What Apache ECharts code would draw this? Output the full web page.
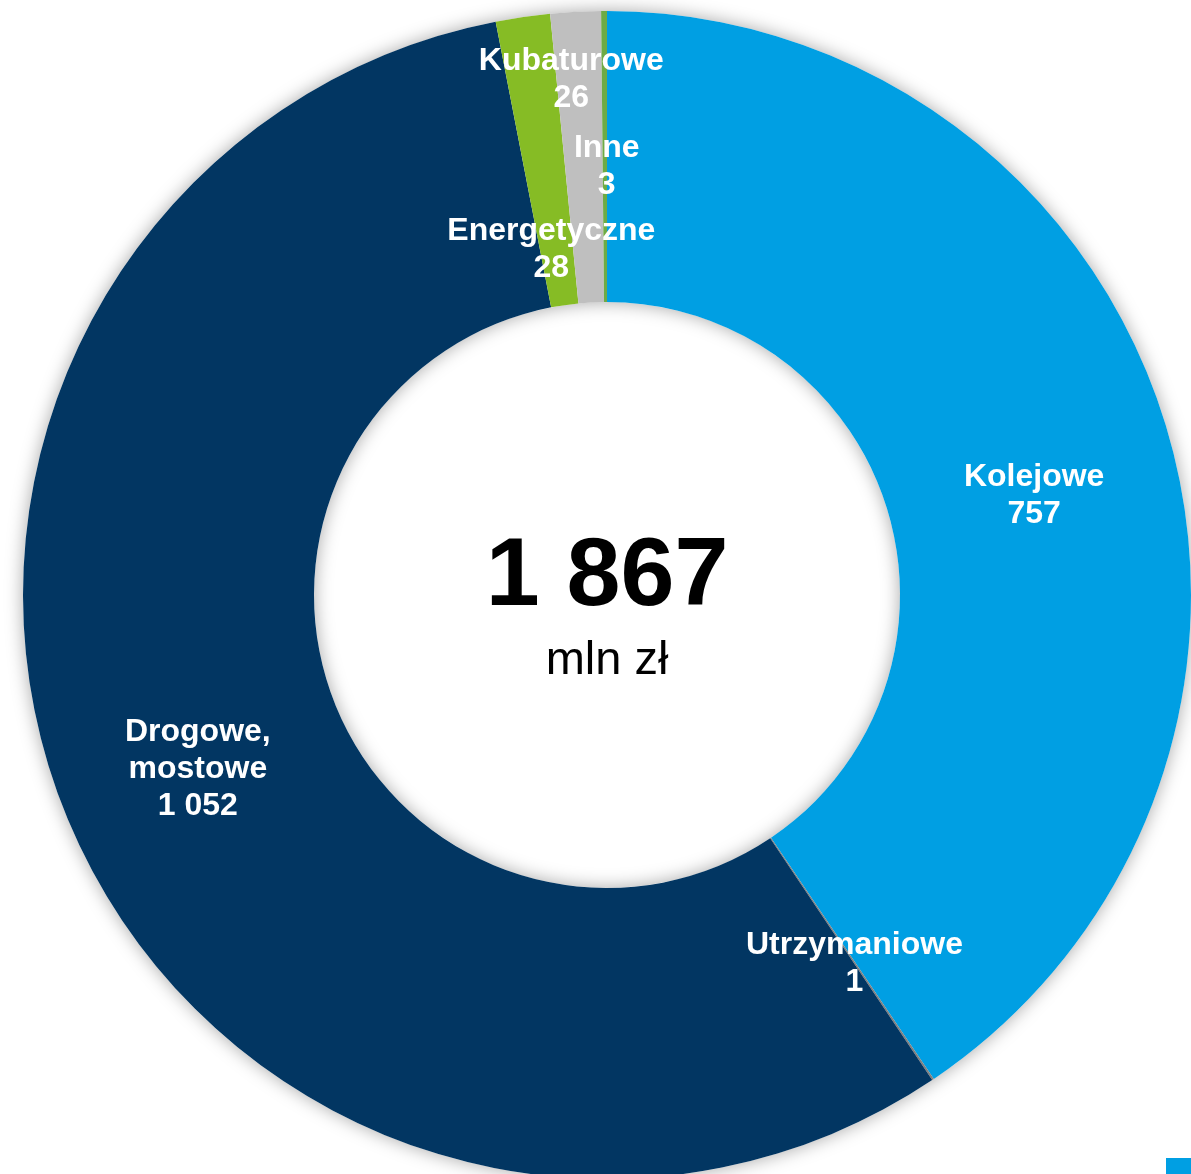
<!DOCTYPE html>
<html>
<head>
<meta charset="utf-8">
<script src="https://cdn.jsdelivr.net/npm/echarts@6/dist/echarts.min.js"></script>
<style>
  html, body { margin: 0; padding: 0; background: #ffffff; }
  #chart { width: 1191px; height: 1174px; }
</style>
</head>
<body>
<div id="chart"></div>
<script>
const categories = ['Kolejowe', 'Utrzymaniowe', 'Drogowe, mostowe', 'Energetyczne', 'Kubaturowe', 'Inne'];
const values = [757, 1, 1052, 28, 26, 3];
const unitLabel = 'mln zł';

const colors = ['#009FE3', '#808080', '#023662', '#86BC25', '#BFBFBF', '#6EAB45'];
const labelOffsets = [[5, 30], [1, 2], [-1, 6], [8, 92], [-12, -74], [2, 13]];

function fmt(v) {
  return String(v).replace(/\B(?=(\d{3})+(?!\d))/g, ' ');
}
const total = values.reduce((a, b) => a + b, 0);

const CENTER = [607, 595];
const RADIUS = [293, 584];

const chart = echarts.init(document.getElementById('chart'), null, { renderer: 'canvas' });

chart.setOption({
  animation: false,
  backgroundColor: '#ffffff',
  legend: {
    data: [categories[0]],
    left: 1166,
    top: 1158,
    icon: 'rect',
    itemWidth: 26,
    itemHeight: 20,
    padding: 0,
    textStyle: { color: '#ffffff', fontSize: 12 },
    selectedMode: false
  },
  graphic: [
    {
      type: 'text',
      x: CENTER[0], y: 578, z: 100,
      style: {
        text: fmt(total),
        font: 'bold 97px "Liberation Sans", Arial, sans-serif',
        fill: '#000000',
        align: 'center',
        verticalAlign: 'middle'
      }
    },
    {
      type: 'text',
      x: CENTER[0], y: 661, z: 100,
      style: {
        text: unitLabel,
        font: '47px "Liberation Sans", Arial, sans-serif',
        fill: '#000000',
        align: 'center',
        verticalAlign: 'middle'
      }
    }
  ],
  series: [
    {
      type: 'pie',
      silent: true,
      z: 1,
      center: CENTER,
      radius: RADIUS,
      label: { show: false },
      labelLine: { show: false },
      itemStyle: {
        color: '#ffffff',
        shadowBlur: 18,
        shadowColor: 'rgba(0,0,0,0.35)'
      },
      data: [{ value: total, name: '__bg' }]
    },
    {
      type: 'pie',
      z: 2,
      center: CENTER,
      radius: RADIUS,
      startAngle: 90,
      clockwise: true,
      avoidLabelOverlap: false,
      minAngle: 0,
      label: {
        show: true,
        position: 'inside',
        color: '#ffffff',
        fontFamily: '"Liberation Sans", Arial, sans-serif',
        fontWeight: 'bold',
        fontSize: 32,
        lineHeight: 37,
        align: 'center',
        formatter: p => p.name.replace(', ', ',\n') + '\n' + fmt(p.value)
      },
      labelLine: { show: false },
      itemStyle: { borderWidth: 0 },
      data: categories.map((name, i) => ({
        name: name,
        value: values[i],
        itemStyle: { color: colors[i] },
        label: { offset: labelOffsets[i] }
      }))
    }
  ]
});
</script>
</body>
</html>
